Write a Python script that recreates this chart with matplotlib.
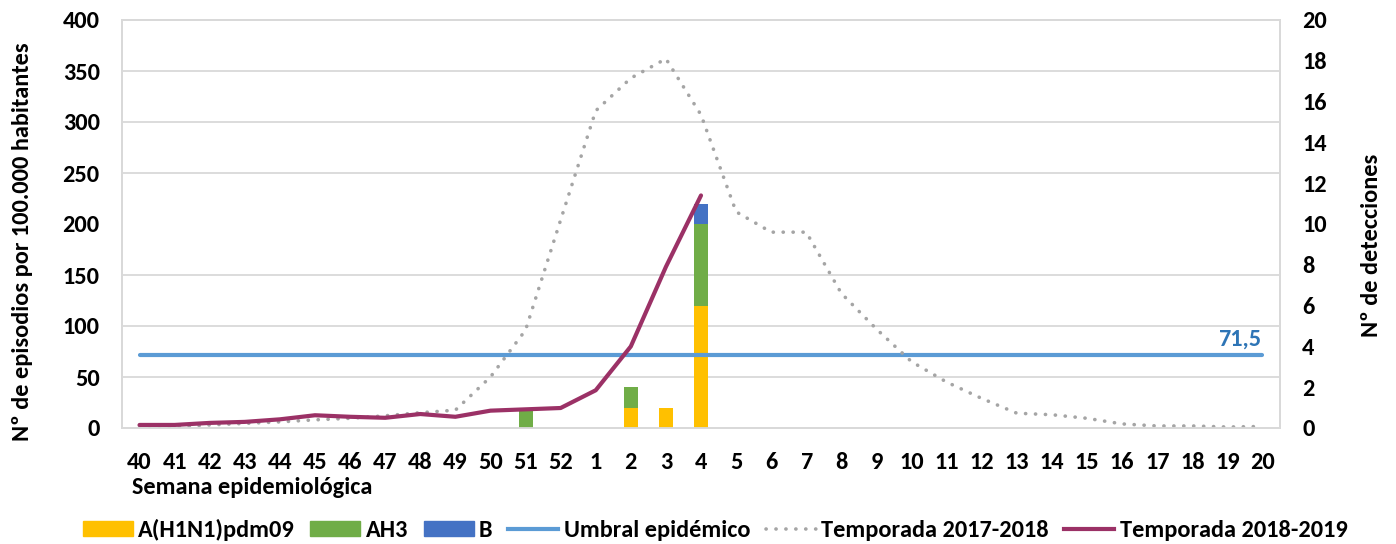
import matplotlib
matplotlib.use("Agg")
import matplotlib.pyplot as plt
import numpy as np
from matplotlib.patches import Patch
from matplotlib.lines import Line2D

weeks = ["40", "41", "42", "43", "44", "45", "46", "47", "48", "49", "50", "51", "52",
         "1", "2", "3", "4", "5", "6", "7", "8", "9", "10", "11", "12", "13", "14",
         "15", "16", "17", "18", "19", "20"]

season_1718 = [2, 1, 3, 4.5, 6, 8, 9.5, 12, 15, 17.5, 50, 96, 204, 311, 343, 362, 307,
               212, 192, 192, 132, 97, 65, 45, 29, 14.5, 13, 9.5, 4, 2, 2, 1, 1.5]
season_1819 = [3, 3, 5, 6, 8.5, 12.5, 11, 10, 13.7, 11, 17, 18.3, 19.6, 37, 80, 158, 228]
threshold = 71.5

h1n1 = [0] * 33
ah3 = [0] * 33
b = [0] * 33
h1n1[14] = 1; ah3[14] = 1
h1n1[15] = 1
ah3[11] = 1
h1n1[16] = 6; ah3[16] = 4; b[16] = 1

C_H1 = "#FFC000"
C_AH3 = "#70AD47"
C_B = "#4472C4"
C_THR = "#5B9BD5"
C_1718 = "#A5A5A5"
C_1819 = "#9B3166"
GRID = "#D9D9D9"

plt.rcParams['font.family'] = ['Carlito', 'Lato', 'DejaVu Sans']
plt.rcParams['font.weight'] = 'bold'
FS = 17.5

fig = plt.figure(figsize=(13.96, 5.44), dpi=100)
ax = fig.add_axes([122/1396, 1-428/544, (1280-122)/1396, (428-20)/544])
ax2 = ax.twinx()
ax.set_zorder(2)
ax2.set_zorder(1)
ax.patch.set_visible(False)

x = np.arange(len(weeks))

# bars on secondary axis
w = 0.4
h1n1 = np.array(h1n1, float); ah3 = np.array(ah3, float); b = np.array(b, float)
ax2.bar(x, h1n1, w, color=C_H1, zorder=3)
ax2.bar(x, ah3, w, bottom=h1n1, color=C_AH3, zorder=3)
ax2.bar(x, b, w, bottom=h1n1 + ah3, color=C_B, zorder=3)
ax2.set_ylim(0, 20)
ax2.set_yticks(np.arange(0, 21, 2))
ax2.set_yticks(np.arange(0, 20.01, 2.5), minor=True)
ax2.grid(axis='y', which='minor', color=GRID, lw=1.3, zorder=0)
ax2.tick_params(axis='y', which='both', length=0, pad=16, labelsize=FS)

DOT = (0, (0.05, 2.7))
# lines on primary axis
ax.plot(x, [threshold] * len(x), color=C_THR, lw=3, solid_capstyle='round')
ax.plot(x, season_1718, color=C_1718, lw=2.6, linestyle=DOT, dash_capstyle='round')
ax.plot(x[:len(season_1819)], season_1819, color=C_1819, lw=3,
        solid_capstyle='round', solid_joinstyle='round')
ax.text(x[-1] - 0.05, threshold + 5, "71,5", color="#2E75B6", fontsize=FS,
        fontweight='bold', ha='right', va='bottom')

ax.set_ylim(0, 400)
ax.set_yticks(np.arange(0, 401, 50))
ax.set_xlim(-0.5, len(weeks) - 0.5)
ax.set_xticks(x)
ax.set_xticklabels(weeks)
ax.tick_params(axis='both', length=0, labelsize=FS)
ax.tick_params(axis='y', pad=16)
ax.tick_params(axis='x', pad=17)

for a in (ax, ax2):
    for s in a.spines.values():
        s.set_color(GRID)
        s.set_linewidth(1.3)

fig.text(23/1396, 1-242/544, "Nº de episodios por 100.000 habitantes", fontsize=FS,
         fontweight='bold', rotation=90, ha='center', va='center')
fig.text(1372/1396, 1-245/544, "Nº de detecciones", fontsize=FS,
         fontweight='bold', rotation=90, ha='center', va='center')
fig.text(132/1396, 1-488/544, "Semana epidemiológica", fontsize=FS,
         fontweight='bold', ha='left', va='center')

handles = [
    Patch(color=C_H1, label="A(H1N1)pdm09"),
    Patch(color=C_AH3, label="AH3"),
    Patch(color=C_B, label="B"),
    Line2D([], [], color=C_THR, lw=3, label="Umbral epidémico"),
    Line2D([], [], color=C_1718, lw=2.6, linestyle=DOT,
           dash_capstyle='round', label="Temporada 2017-2018"),
    Line2D([], [], color=C_1819, lw=3, label="Temporada 2018-2019"),
]
fig.legend(handles=handles, loc='center', bbox_to_anchor=(715/1396, 1-530/544),
           ncol=6, frameon=False, fontsize=FS, handlelength=2.06,
           handleheight=0.62, columnspacing=0.64, handletextpad=0.22,
           borderpad=0, borderaxespad=0)

fig.savefig("out.png", dpi=100)
